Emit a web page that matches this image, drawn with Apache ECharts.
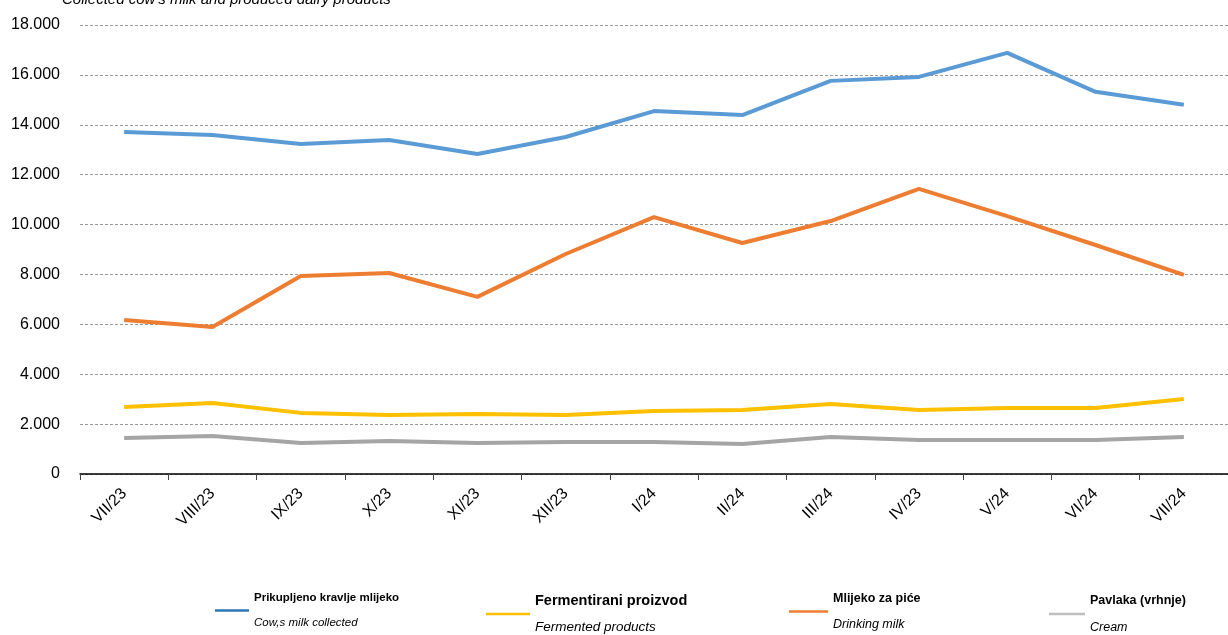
<!DOCTYPE html>
<html><head><meta charset="utf-8">
<script src="https://cdn.jsdelivr.net/npm/echarts@6/dist/echarts.min.js"></script>
<style>html,body{margin:0;padding:0;background:#fff}#c{width:1228px;height:635px}</style>
</head><body><div id="c"></div>
<script>
const categories = ['VII/23','VIII/23','IX/23','X/23','XI/23','XII/23','I/24','II/24','III/24','IV/23','V/24','VI/24','VII/24'];
const cowMilk = [13710,13590,13230,13390,12830,13510,14550,14390,15760,15920,16880,15320,14800];
const fermented = [2690,2850,2450,2370,2410,2370,2530,2570,2810,2570,2650,2650,3010];
const drinkingMilk = [6170,5890,7940,8060,7100,8820,10300,9260,10140,11430,10340,9180,7980];
const cream = [1440,1520,1240,1320,1240,1280,1280,1200,1480,1360,1360,1360,1480];
const yTicks = [0,2000,4000,6000,8000,10000,12000,14000,16000,18000];
const names = [
  ['Prikupljeno kravlje mlijeko','Cow,s milk collected'],
  ['Fermentirani proizvod','Fermented products'],
  ['Mlijeko za piće','Drinking milk'],
  ['Pavlaka (vrhnje)','Cream']
];
const colors = ['#5B9BD5','#FFC000','#ED7D31','#A5A5A5'];
const legendColors = ['#2E75B6','#FFC000','#ED7D31','#BFBFBF'];
const seriesData = [cowMilk, fermented, drinkingMilk, cream];
const font = "'Liberation Sans',Arial,sans-serif";

const legendPos = [
  {left:210, top:587, w:34, b:11.5, i:11.5, lh:25},
  {left:481, top:588, w:44, b:14.5, i:13.5, lh:27},
  {left:784, top:587, w:39, b:12.5, i:12.5, lh:26},
  {left:1044, top:589, w:36, b:12.5, i:12.5, lh:27}
];

const chart = echarts.init(document.getElementById('c'));
chart.setOption({
  animation:false,
  title:{text:"Collected cow's milk and produced dairy products", left:57, top:-13,
    textStyle:{fontFamily:font, fontStyle:'italic', fontWeight:'normal', fontSize:15, color:'#000'}},
  grid:{left:80, right:-4, top:25, bottom:161},
  xAxis:{type:'category', data:categories, boundaryGap:true,
    axisLine:{lineStyle:{color:'#000', width:1.5}},
    axisTick:{show:true, length:6, lineStyle:{color:'#444'}},
    axisLabel:{rotate:45, fontSize:16, color:'#000', margin:17, fontFamily:font}},
  yAxis:{type:'value', min:0, max:18000, interval:2000,
    axisLine:{show:false}, axisTick:{show:false},
    splitLine:{lineStyle:{type:[3,2], color:'#999', width:1}},
    axisLabel:{fontSize:16, color:'#000', margin:20, fontFamily:font,
      formatter:v=>yTicks.includes(v)?(v===0?'0':(v/1000).toFixed(3)):''}},
  legend: names.map((n,k)=>({
    data:[n[0]], left:legendPos[k].left, top:legendPos[k].top, icon:'rect',
    itemWidth:legendPos[k].w, itemHeight:2.5, itemGap:0, selectedMode:false,
    itemStyle:{color:legendColors[k]},
    formatter:nm=>'{b|'+nm+'}\n{i|'+n[1]+'}',
    textStyle:{rich:{
      b:{fontWeight:'bold', fontSize:legendPos[k].b, fontFamily:font, color:'#000', lineHeight:legendPos[k].lh},
      i:{fontStyle:'italic', fontSize:legendPos[k].i, fontFamily:font, color:'#000', lineHeight:legendPos[k].lh}
    }}
  })),
  series: names.map((n,k)=>({
    name:n[0], type:'line', data:seriesData[k], symbol:'none',
    lineStyle:{color:colors[k], width:4}, itemStyle:{color:colors[k]}
  }))
});
</script></body></html>
